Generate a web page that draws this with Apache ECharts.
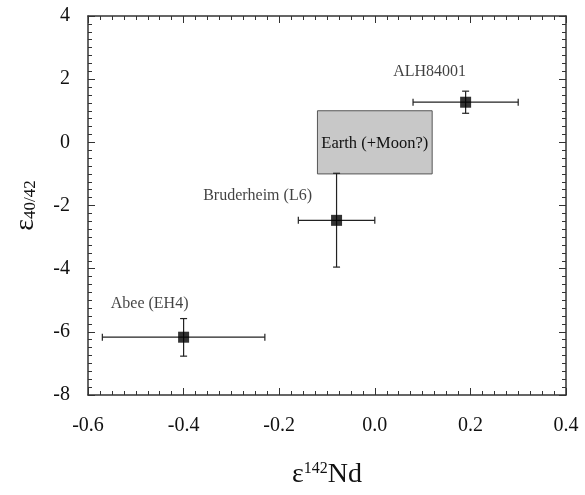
<!DOCTYPE html>
<html>
<head>
<meta charset="utf-8">
<script src="https://cdn.jsdelivr.net/npm/echarts@6/dist/echarts.min.js"></script>
<style>
  html, body { margin: 0; padding: 0; background: #fff; }
  #main { width: 585px; height: 495px; }
</style>
</head>
<body>
<div id="main"></div>
<script>
// samples: name, eps142Nd, eps40/42 and their error ranges
const names = ['ALH84001', 'Bruderheim (L6)', 'Abee (EH4)'];
const nd = [0.19, -0.08, -0.40];
const eps = [1.27, -2.47, -6.17];
const ndLo = [0.08, -0.16, -0.57];
const ndHi = [0.30, 0.0, -0.23];
const epsLo = [0.92, -3.95, -6.77];
const epsHi = [1.62, -0.98, -5.58];
// Earth box: [x0, x1, y0, y1]
const earthBox = [-0.12, 0.12, -1, 1];
const earthLabel = 'Earth (+Moon?)';

const xTicks = { min: -0.6, max: 0.4, interval: 0.2 };
const yTicks = { min: -8, max: 4, interval: 2 };

const font = '"Liberation Serif", "DejaVu Serif", serif';
const axisColor = '#333';

const chart = echarts.init(document.getElementById('main'), null, { renderer: 'canvas' });

// label offsets, one per sample (style, not data)
const labelOffsets = [[-36, -30], [-79, -25], [-34, -33]];

const points = names.map((n, i) => ({
  value: [nd[i], eps[i]],
  name: n,
  label: { show: true, formatter: n, position: 'inside', offset: labelOffsets[i] }
}));
const errData = names.map((n, i) => [nd[i], eps[i], ndLo[i], ndHi[i], epsLo[i], epsHi[i]]);

function baseAxis(extra) {
  return Object.assign({
    type: 'value',
    axisLine: { show: true, onZero: false, lineStyle: { color: axisColor, width: 1.5 } },
    axisTick: { show: true, inside: true, length: 7, lineStyle: { color: axisColor, width: 1 } },
    minorTick: { show: true, splitNumber: 8, length: 4, lineStyle: { color: axisColor, width: 1 } },
    splitLine: { show: false },
    minorSplitLine: { show: false }
  }, extra);
}

const option = {
  animation: false,
  backgroundColor: '#fff',
  textStyle: { fontFamily: font },
  grid: { left: 88, top: 16, right: 19, bottom: 100, containLabel: false },
  xAxis: [
    baseAxis(Object.assign({}, xTicks, {
      position: 'bottom',
      axisLabel: { color: '#111', fontSize: 20, fontFamily: font, margin: 21,
        formatter: v => v.toFixed(1) },
      name: '{e|ε}{sup|142}{e|Nd}',
      nameLocation: 'middle',
      nameGap: 66,
      nameTextStyle: {
        rich: {
          e: { fontSize: 28, fontFamily: font, color: '#111' },
          sup: { fontSize: 16, fontFamily: font, color: '#111', verticalAlign: 'top', padding: [0, 0, 12, 0] }
        }
      }
    })),
    baseAxis(Object.assign({}, xTicks, {
      position: 'top', axisLabel: { show: false }
    }))
  ],
  yAxis: [
    baseAxis(Object.assign({}, yTicks, {
      position: 'left',
      axisLabel: { color: '#111', fontSize: 20, fontFamily: font, margin: 18 },
      name: '{e|ε}{sub|40/42}',
      nameLocation: 'middle',
      nameGap: 48,
      nameTextStyle: {
        rich: {
          e: { fontSize: 28, fontFamily: font, color: '#111' },
          sub: { fontSize: 17, fontFamily: font, color: '#111', padding: [10, 0, 0, 0] }
        }
      }
    })),
    baseAxis(Object.assign({}, yTicks, {
      position: 'right', axisLabel: { show: false }
    }))
  ],
  series: [
    {
      type: 'custom',
      name: 'earth',
      z: 1,
      data: [earthBox],
      renderItem: (params, api) => {
        const p0 = api.coord([api.value(0), api.value(3)]);
        const p1 = api.coord([api.value(1), api.value(2)]);
        return {
          type: 'group',
          children: [
            {
              type: 'rect',
              shape: { x: p0[0], y: p0[1], width: p1[0] - p0[0], height: p1[1] - p0[1] },
              style: { fill: '#c8c8c8', stroke: '#555', lineWidth: 1 }
            },
            {
              type: 'text',
              style: {
                x: (p0[0] + p1[0]) / 2, y: (p0[1] + p1[1]) / 2 + 1,
                text: earthLabel, align: 'center', verticalAlign: 'middle',
                font: '16.5px ' + font, fill: '#111'
              }
            }
          ]
        };
      }
    },
    {
      type: 'custom',
      name: 'errors',
      z: 2,
      data: errData,
      renderItem: (params, api) => {
        const c = api.coord([api.value(0), api.value(1)]);
        const xl = api.coord([api.value(2), api.value(1)]);
        const xh = api.coord([api.value(3), api.value(1)]);
        const yl = api.coord([api.value(0), api.value(4)]);
        const yh = api.coord([api.value(0), api.value(5)]);
        const cap = 3.5;
        const st = { stroke: '#222', lineWidth: 1.2 };
        const line = (x1, y1, x2, y2) => ({ type: 'line', shape: { x1, y1, x2, y2 }, style: st });
        return {
          type: 'group',
          children: [
            line(xl[0], c[1], xh[0], c[1]),
            line(xl[0], c[1] - cap, xl[0], c[1] + cap),
            line(xh[0], c[1] - cap, xh[0], c[1] + cap),
            line(c[0], yl[1], c[0], yh[1]),
            line(c[0] - cap, yl[1], c[0] + cap, yl[1]),
            line(c[0] - cap, yh[1], c[0] + cap, yh[1])
          ]
        };
      }
    },
    {
      type: 'scatter',
      name: 'samples',
      z: 3,
      symbol: 'rect',
      symbolSize: 11,
      itemStyle: { color: '#000' },
      label: { color: '#111', fontSize: 16, fontFamily: font },
      data: points
    }
  ]
};

chart.setOption(option);
</script>
</body>
</html>
